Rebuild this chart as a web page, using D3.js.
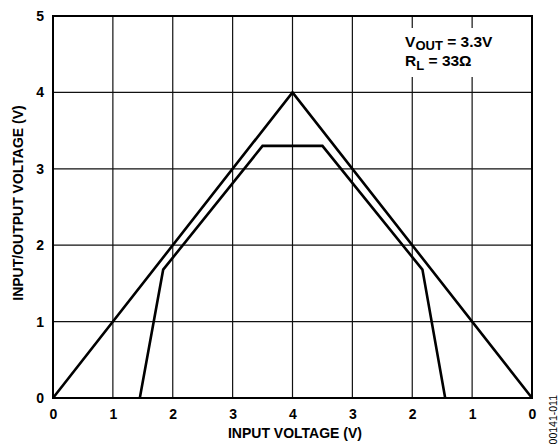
<!DOCTYPE html>
<html lang="en">
<head>
<meta charset="UTF-8" />
<title>Input/Output Voltage</title>
<script src="https://cdn.jsdelivr.net/npm/d3@7"></script>
<style>
body{margin:0;background:#fff}
svg{display:block;font-family:"Liberation Sans",Arial,Helvetica,sans-serif;font-weight:bold}
</style>
</head>
<body>
<svg id="chart" width="559" height="444"></svg>
<script>
/* ===== data ===== */
const xTicks=[0,1,2,3,4,5,6,7,8];
const xTickLabels=['0','1','2','3','4','3','2','1','0'];
const yTicks=[0,1,2,3,4,5];
// ideal (input) triangle
const inputX=[0,4,8];
const inputY=[0,4,0];
// output with V_OUT = 3.3V, R_L = 33 ohm
const outputX=[1.45,1.84,3.5,4.5,6.17,6.55];
const outputY=[0,1.68,3.3,3.3,1.68,0];

/* ===== chart ===== */
const svg=d3.select('#chart'),
      M={l:53,r:27,t:16,b:46},
      w=559-M.l-M.r,h=444-M.t-M.b;
const g=svg.append('g').attr('transform',`translate(${M.l},${M.t})`);
const x=d3.scaleLinear().domain([0,8]).range([0,w]);
const y=d3.scaleLinear().domain([0,5]).range([h,0]);

// grid
g.append('g').selectAll('line').data(xTicks.slice(1,-1)).join('line')
  .attr('x1',d=>x(d)).attr('x2',d=>x(d)).attr('y1',0).attr('y2',h)
  .attr('stroke','#111').attr('stroke-width',1.2);
g.append('g').selectAll('line').data(yTicks.slice(1,-1)).join('line')
  .attr('y1',d=>y(d)).attr('y2',d=>y(d)).attr('x1',0).attr('x2',w)
  .attr('stroke','#111').attr('stroke-width',1.2);

// annotation background box breaks the grid
g.append('rect').attr('x',x(5.82)).attr('y',12).attr('width',x(7.85)-x(5.82)).attr('height',49).attr('fill','#fff');

// axes (labels only)
const xa=g.append('g').attr('transform',`translate(0,${h})`)
  .call(d3.axisBottom(x).tickValues(xTicks).tickFormat((d,i)=>xTickLabels[i]).tickSize(0).tickPadding(11));
const ya=g.append('g')
  .call(d3.axisLeft(y).tickValues(yTicks).tickFormat(d3.format('d')).tickSize(0).tickPadding(9));
[xa,ya].forEach(a=>{a.select('.domain').remove();
  a.selectAll('text').attr('font-size',14).attr('font-weight','bold').attr('fill','#000')
   .attr('font-family','"Liberation Sans",Arial,sans-serif');});

// frame
g.append('rect').attr('width',w).attr('height',h).attr('fill','none').attr('stroke','#000').attr('stroke-width',2);

// lines
const line=d3.line().x(d=>x(d[0])).y(d=>y(d[1]));
g.append('path').datum(d3.zip(inputX,inputY)).attr('d',line)
  .attr('fill','none').attr('stroke','#000').attr('stroke-width',2.6).attr('stroke-linejoin','miter');
g.append('path').datum(d3.zip(outputX,outputY)).attr('d',line)
  .attr('fill','none').attr('stroke','#000').attr('stroke-width',2.6).attr('stroke-linejoin','miter');

// annotation
const t1=g.append('text').attr('x',x(5.88)).attr('y',30.5).attr('font-size',15.5);
t1.append('tspan').text('V');
t1.append('tspan').attr('font-size',13).attr('dy',3.5).text('OUT');
t1.append('tspan').attr('dy',-3.5).text(' = 3.3V');
const t2=g.append('text').attr('x',x(5.88)).attr('y',50).attr('font-size',15.5);
t2.append('tspan').text('R');
t2.append('tspan').attr('font-size',13).attr('dy',3.5).text('L');
t2.append('tspan').attr('dy',-3.5).text(' = 33Ω');

// axis titles
svg.append('text').attr('x',295).attr('y',438).attr('text-anchor','middle')
  .attr('font-size',14).text('INPUT VOLTAGE (V)');
svg.append('text').attr('transform','translate(23,203) rotate(-90)').attr('text-anchor','middle')
  .attr('font-size',14).text('INPUT/OUTPUT VOLTAGE (V)');

// figure id
svg.append('text').attr('transform','translate(557,395) rotate(-90)').attr('text-anchor','end')
  .attr('font-size',10.5).attr('font-weight','normal').text('00141-011');
</script>
</body>
</html>
